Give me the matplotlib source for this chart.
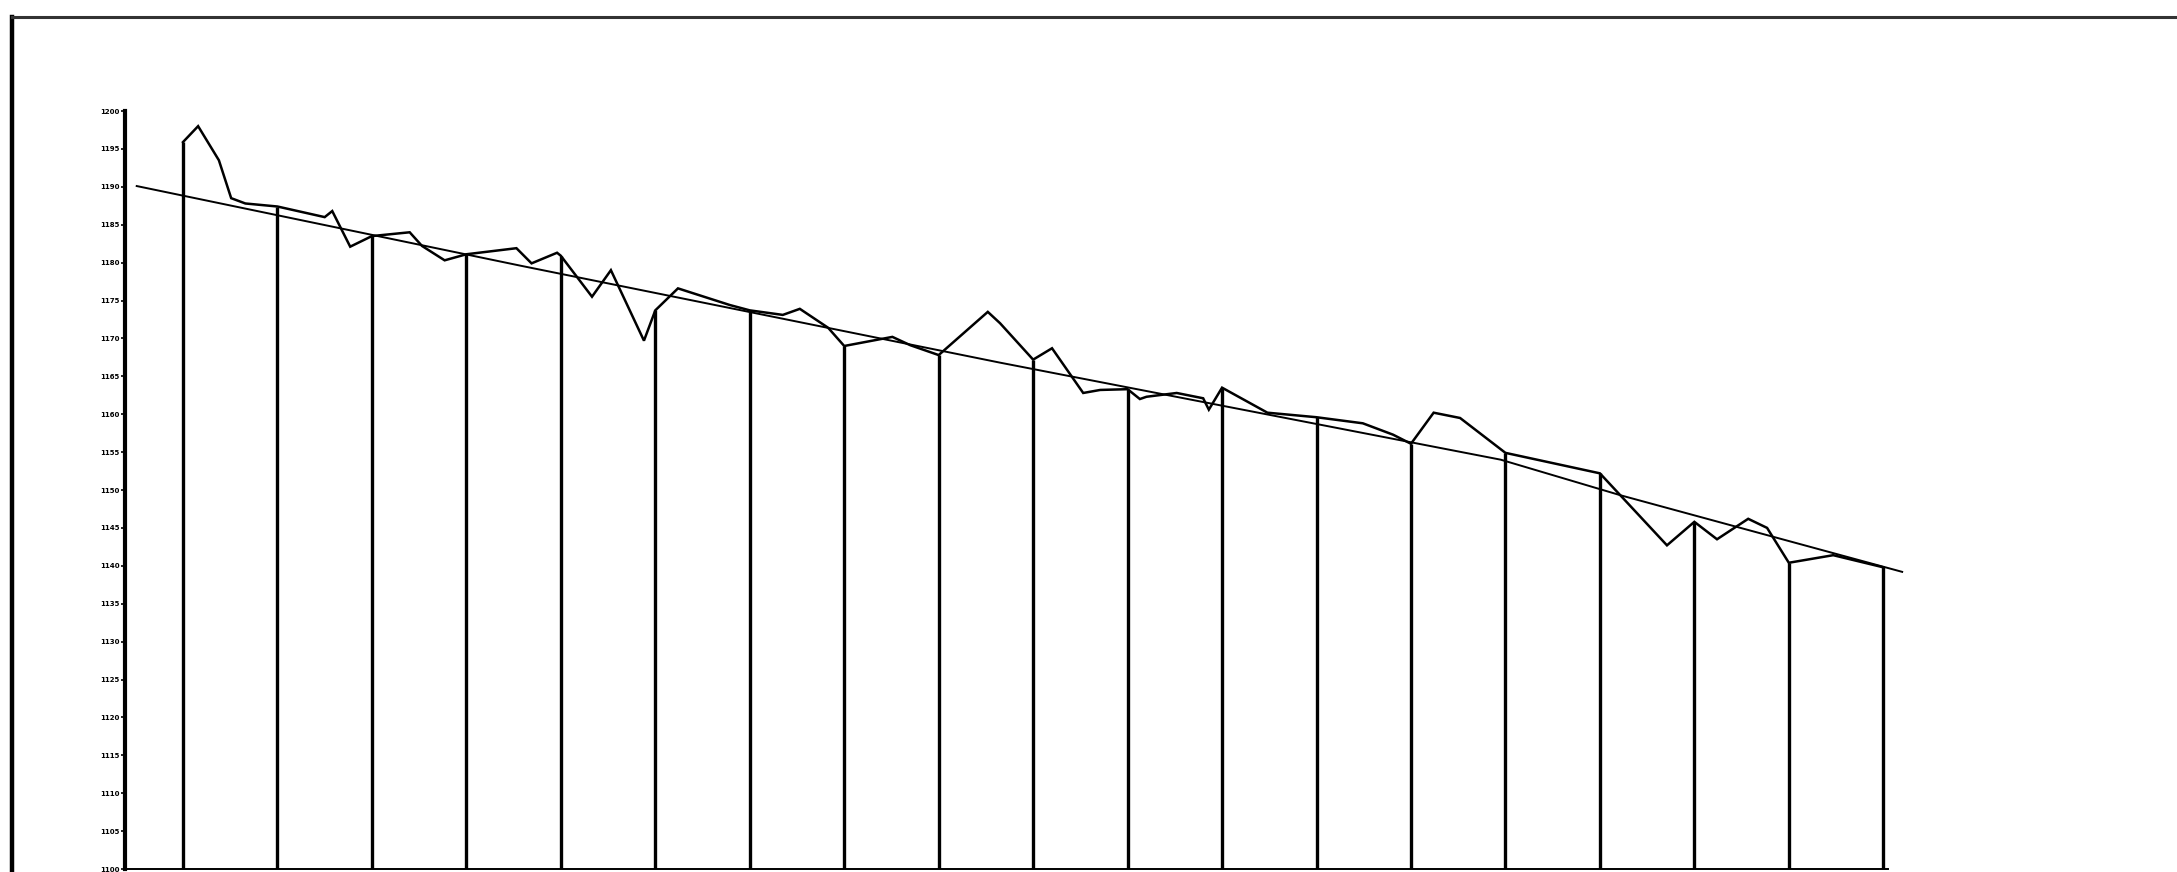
import matplotlib
matplotlib.use("Agg")
import matplotlib.pyplot as plt
from matplotlib.lines import Line2D
import numpy as np

# ---- data ----
# time position (drop lines fall on whole numbers) and level of the zigzag series
series_t = [0, 0.16, 0.38, 0.51, 0.66, 1, 1.50, 1.58, 1.77, 2, 2.40, 2.53, 2.77, 3,
            3.53, 3.69, 3.96, 4, 4.33, 4.53, 4.88, 5, 5.24, 5.79, 6, 6.35, 6.53, 6.83, 7,
            7.51, 7.70, 8, 8.52, 8.65, 9, 9.20, 9.53, 9.71, 10, 10.13, 10.20, 10.52, 10.80,
            10.86, 11, 11.48, 12, 12.49, 12.81, 13, 13.24, 13.52, 14, 15, 15.71, 16, 16.24,
            16.57, 16.77, 17, 17.47, 18]
series_v = [1195.9, 1198.0, 1193.5, 1188.5, 1187.8, 1187.4, 1186.0, 1186.8, 1182.1, 1183.5,
            1184.0, 1182.2, 1180.3, 1181.1, 1181.9, 1179.9, 1181.3, 1180.9, 1175.5, 1179.0,
            1169.7, 1173.7, 1176.6, 1174.4, 1173.7, 1173.1, 1173.9, 1171.4, 1169.0, 1170.2,
            1169.1, 1167.8, 1173.5, 1172.0, 1167.2, 1168.7, 1162.8, 1163.2, 1163.3, 1162.0,
            1162.3, 1162.8, 1162.1, 1160.6, 1163.5, 1160.2, 1159.6, 1158.8, 1157.3, 1156.1,
            1160.2, 1159.5, 1154.9, 1152.2, 1142.7, 1145.8, 1143.5, 1146.2, 1145.0, 1140.4,
            1141.4, 1139.8]

# drop-line positions
drop_t = list(range(0, 19))

# trend line
trend_t = [-0.49, 3.57, 8.65, 13.95, 15.22, 18.2]
trend_v = [1190.1, 1179.6, 1166.8, 1154.0, 1149.3, 1139.2]

# y tick labels
ytick_vals = list(range(1100, 1201, 5))
ytick_labels = [str(v) for v in ytick_vals]

# ---- figure ----
W, H, DPI = 2177, 872, 100
fig = plt.figure(figsize=(W / DPI, H / DPI), dpi=DPI)
fig.patch.set_facecolor("white")

# page border lines from the scan
fig.add_artist(Line2D([12 / W, 12 / W], [0, 1 - 17 / H], color="black", lw=3.2))
fig.add_artist(Line2D([12 / W, 1], [1 - 17 / H, 1 - 17 / H], color="#333333", lw=2.2))

ax = fig.add_axes([125 / W, 3 / H, (1888 - 125) / W, (869 - 111) / H])
ax.set_xlim(-0.614, 18.05)
ax.set_ylim(1100, 1200)

# drop lines
drop_v = np.interp(drop_t, series_t, series_v)
ax.vlines(drop_t, 1100, drop_v, colors="black", lw=2.4)

# zigzag series
ax.plot(series_t, series_v, color="black", lw=1.8, solid_joinstyle="miter")

# trend line
ax.plot(trend_t, trend_v, color="black", lw=1.4, clip_on=False)

for s in ["top", "right"]:
    ax.spines[s].set_visible(False)
ax.spines["left"].set_linewidth(3.0)
ax.spines["bottom"].set_linewidth(1.4)
ax.set_xticks([])
ax.set_yticks(ytick_vals)
ax.set_yticklabels(ytick_labels, fontsize=5, fontweight="bold")
ax.tick_params(axis="y", length=3, width=1.2, pad=1)
ax.patch.set_alpha(0)

fig.savefig("out.png", dpi=DPI, facecolor="white")
